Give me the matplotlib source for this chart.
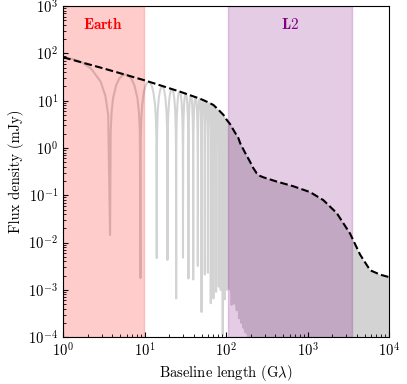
import numpy as np
import matplotlib
matplotlib.use("Agg")
import matplotlib.pyplot as plt

# envelope (dashed curve)
env_x = [1, 3.16, 10, 27.3, 48, 60, 70, 78, 93, 100, 112, 125, 142, 149, 170,
         197, 215, 238, 260, 287, 419, 670, 1070, 1560, 2280, 3320, 4400, 5850,
         7760, 10000]
env_y = [83, 48, 27, 15.5, 11, 9.3, 8.1, 6.8, 5.0, 4.1, 3.2, 2.3, 1.6, 1.26,
         0.81, 0.51, 0.38, 0.29, 0.257, 0.24, 0.195, 0.155, 0.117, 0.079, 0.042,
         0.0155, 0.0056, 0.0026, 0.0021, 0.00186]

# nulls of the oscillating visibility and how deep they go
null_x = [3.77, 8.9, 14.1, 19.1, 24.4, 29.6, 34.5, 39.5, 45.0, 50.0, 54.8, 59.8,
          64.9, 69.9, 75.4, 81.3, 86, 91, 96.4, 102, 110, 117, 125, 135, 144,
          154, 163, 173, 185]
null_y = [0.0145, 0.00178, 0.0047, 0.0043, 0.00066, 0.0048, 0.00174, 0.00166,
          0.0032, 0.00034, 0.0021, 0.0023, 0.00052, 0.00066, 0.00091, 0.00117,
          0.001, 0.00011, 0.00063, 0.001, 0.00107, 0.00048, 0.00051, 0.00037,
          0.00025, 0.0002, 0.00016, 0.000126, 0.0001]
# lobe tops between consecutive nulls (first value: start of curve at x=1)
peak_y = [80, 36, 25, 20, 17.7, 15.5, 14.1, 12.9, 11.9, 11.0, 10.2, 9.5, 8.9,
          8.3, 7.3, 6.4, 5.6, 5.0, 4.6, 4.0, 3.4, 2.9, 2.4, 1.9, 1.6, 1.2,
          0.95, 0.8, 0.65]
# shape of one lobe: position as fraction of lobe width, drop below top (dex)
lobe_f = [0.02, 0.05, 0.1, 0.2, 0.3, 0.4, 0.5]
lobe_drop = [1.2, 0.8, 0.5, 0.23, 0.09, 0.02, 0.0]

# lower edge of the region where the lobes merge into solid grey
fill_lo_x = [93, 110, 140, 165, 190, 10000]
fill_lo_y = [1.3e-3, 1.0e-3, 3.5e-4, 1.4e-4, 1e-4, 1e-4]

earth_span = (1, 9.9)
l2_span = (106, 3480)

plt.rcParams["font.family"] = "serif"
plt.rcParams["font.serif"] = ["cmr10"]
plt.rcParams["mathtext.fontset"] = "cm"
plt.rcParams["axes.formatter.use_mathtext"] = True
plt.rcParams["font.size"] = 10.5

fig = plt.figure(figsize=(4.07, 3.84), dpi=100)
ax = fig.add_axes([0.155, 0.122, 0.801, 0.862])

# build the grey oscillating curve lobe by lobe
lf = np.array(lobe_f)
ld = np.array(lobe_drop)
gx, gy = [], []
# first half lobe, from x=1 down into the first null
w = 2 * np.log10(null_x[0])
for f, d in zip(lf[::-1], ld[::-1]):
    gx.append(null_x[0] / 10 ** (f * w))
    gy.append(peak_y[0] / 10 ** d)
gx.append(null_x[0])
gy.append(null_y[0])
for i in range(len(null_x) - 1):
    a, b = np.log10(null_x[i]), np.log10(null_x[i + 1])
    p = peak_y[i + 1]
    # rising side
    for f, d in zip(lf, ld):
        gx.append(10 ** (a + f * (b - a)))
        gy.append(p / 10 ** d)
    # falling side
    for f, d in zip(lf[-2::-1], ld[-2::-1]):
        gx.append(10 ** (b - f * (b - a)))
        gy.append(p / 10 ** d)
    gx.append(null_x[i + 1])
    gy.append(null_y[i + 1])

ax.plot(gx, gy, color="lightgray", linewidth=1.5, zorder=1)

# solid grey where lobes are too dense to separate
top_x = [x for x in env_x if x >= fill_lo_x[0]]
top_y = [y for x, y in zip(env_x, env_y) if x >= fill_lo_x[0]]
ax.fill(top_x + fill_lo_x[::-1], top_y + fill_lo_y[::-1],
        color="lightgray", linewidth=0, zorder=1)

ax.axvspan(*earth_span, color="red", alpha=0.2, zorder=1.5)
ax.axvspan(*l2_span, color="purple", alpha=0.2, zorder=1.5)

ax.plot(env_x, env_y, color="black", linestyle="--", linewidth=1.5, zorder=3)

ax.text(np.sqrt(earth_span[0] * earth_span[1]), 400, r"$\mathbf{Earth}$",
        color="red", ha="center", va="center", fontsize=11)
ax.text(np.sqrt(l2_span[0] * l2_span[1]), 400, r"$\mathbf{L2}$",
        color="purple", ha="center", va="center", fontsize=11)

ax.set_xscale("log")
ax.set_yscale("log")
ax.set_xlim(1, 1e4)
ax.set_ylim(1e-4, 1e3)
ax.tick_params(which="both", direction="in")
ax.set_xlabel(r"Baseline length (G$\lambda$)", labelpad=2)
ax.set_ylabel("Flux density (mJy)", labelpad=3)

fig.savefig("out.png", dpi=100)
